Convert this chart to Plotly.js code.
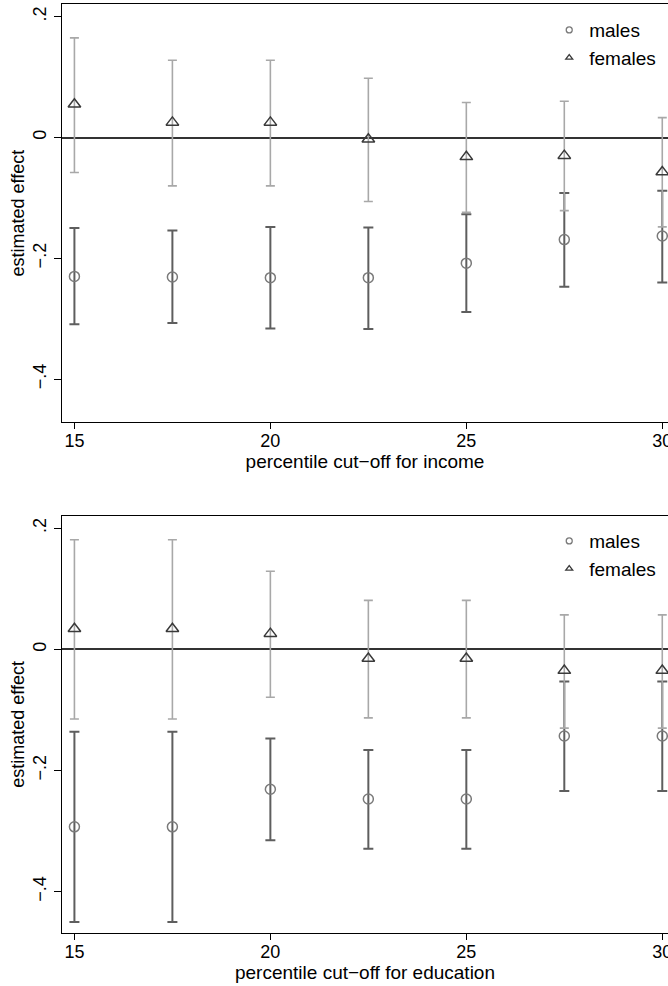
<!DOCTYPE html>
<html>
<head>
<meta charset="utf-8">
<script src="https://cdn.plot.ly/plotly-3.0.1.min.js"></script>
<style>html,body{margin:0;padding:0;background:#fff;overflow:hidden;}</style>
</head>
<body>
<div id="chart" style="width:668px;height:986px;"></div>
<script>
// percentile cut-offs
const cutoffs = [15, 17.5, 20, 22.5, 25, 27.5, 30];

// Panel 1: income
const maleIncome     = [-0.230, -0.231, -0.232, -0.232, -0.208, -0.169, -0.163];
const maleIncomeHi   = [-0.150, -0.154, -0.148, -0.149, -0.127, -0.092, -0.088];
const maleIncomeLo   = [-0.309, -0.307, -0.316, -0.317, -0.289, -0.247, -0.240];
const femaleIncome   = [0.055, 0.025, 0.025, -0.003, -0.032, -0.030, -0.057];
const femaleIncomeHi = [0.165, 0.128, 0.128, 0.098, 0.058, 0.060, 0.033];
const femaleIncomeLo = [-0.058, -0.080, -0.080, -0.106, -0.124, -0.121, -0.148];

// Panel 2: education
const maleEdu     = [-0.293, -0.293, -0.231, -0.247, -0.247, -0.143, -0.143];
const maleEduHi   = [-0.136, -0.136, -0.147, -0.166, -0.166, -0.053, -0.053];
const maleEduLo   = [-0.450, -0.450, -0.315, -0.329, -0.329, -0.234, -0.234];
const femaleEdu   = [0.034, 0.034, 0.026, -0.015, -0.015, -0.035, -0.035];
const femaleEduHi = [0.181, 0.181, 0.129, 0.081, 0.081, 0.057, 0.057];
const femaleEduLo = [-0.115, -0.115, -0.079, -0.113, -0.113, -0.130, -0.130];

const xTickVals = [15, 20, 25, 30];
const yTickVals = [-0.4, -0.2, 0, 0.2];
const yTickText = ['\u2212.4', '\u2212.2', '0', '.2'];
const seriesNames = ['males', 'females'];
const xTitles = ['percentile cut\u2212off for income', 'percentile cut\u2212off for education'];
const yTitle = 'estimated effect';

const FONT = 'Liberation Sans, Arial, Helvetica, sans-serif';
const maleColor = '#7a7a7a', maleBarColor = '#5e5e5e';
const femaleColor = '#3a3a3a', femaleBarColor = '#a8a8a8';

function errTrace(y, hi, lo, color, thick, w, xa, ya) {
  return {
    x: cutoffs, y: y, xaxis: xa, yaxis: ya, type: 'scatter', mode: 'markers',
    marker: {size: 1, opacity: 0}, showlegend: false, hoverinfo: 'skip',
    error_y: {type: 'data', symmetric: false,
      array: hi.map((v, i) => v - y[i]), arrayminus: lo.map((v, i) => y[i] - v),
      color: color, thickness: thick, width: w}
  };
}
function markTrace(y, sym, color, size, xa, ya) {
  return {x: cutoffs, y: y, xaxis: xa, yaxis: ya, type: 'scatter', mode: 'markers',
    marker: {symbol: sym, size: size, color: color, line: {color: color, width: 1.5}},
    showlegend: false};
}
function legTrace(name, sym, color, xa, ya, leg) {
  return {x: [null], y: [null], xaxis: xa, yaxis: ya, type: 'scatter', mode: 'markers', name: name,
    legend: leg, marker: {symbol: sym, size: 6, color: color, line: {color: color, width: 1.3}}};
}

const data = [
  errTrace(maleIncome, maleIncomeHi, maleIncomeLo, maleBarColor, 2, 5, 'x', 'y'),
  errTrace(femaleIncome, femaleIncomeHi, femaleIncomeLo, femaleBarColor, 1.6, 4.5, 'x', 'y'),
  markTrace(maleIncome, 'circle-open', maleColor, 10, 'x', 'y'),
  markTrace(femaleIncome, 'triangle-up-open', femaleColor, 11, 'x', 'y'),
  legTrace(seriesNames[0], 'circle-open', maleColor, 'x', 'y', 'legend'),
  legTrace(seriesNames[1], 'triangle-up-open', femaleColor, 'x', 'y', 'legend'),

  errTrace(maleEdu, maleEduHi, maleEduLo, maleBarColor, 2, 5, 'x2', 'y2'),
  errTrace(femaleEdu, femaleEduHi, femaleEduLo, femaleBarColor, 1.6, 4.5, 'x2', 'y2'),
  markTrace(maleEdu, 'circle-open', maleColor, 10, 'x2', 'y2'),
  markTrace(femaleEdu, 'triangle-up-open', femaleColor, 11, 'x2', 'y2'),
  legTrace(seriesNames[0], 'circle-open', maleColor, 'x2', 'y2', 'legend2'),
  legTrace(seriesNames[1], 'triangle-up-open', femaleColor, 'x2', 'y2', 'legend2')
];

function xAxis(title, anchor) {
  return {anchor: anchor, domain: [0, 1], range: [14.683, 30.146], tickvals: xTickVals,
    showline: true, mirror: true, linecolor: '#000', linewidth: 1.5, showgrid: false, zeroline: false,
    ticks: 'outside', ticklen: 6, tickwidth: 1.2, tickcolor: '#000', ticklabeloverflow: 'allow',
    ticklabelstandoff: -4,
    tickfont: {size: 18, color: '#000', family: FONT},
    title: {text: title, font: {size: 19, color: '#000', family: FONT}, standoff: 0}};
}
function yAxis(anchor, domain, range) {
  return {anchor: anchor, domain: domain, range: range, tickvals: yTickVals, ticktext: yTickText,
    tickangle: -90, showline: true, mirror: false, linecolor: '#000', linewidth: 1.5, showgrid: false,
    zeroline: true, zerolinecolor: '#333', zerolinewidth: 2,
    ticks: 'outside', ticklen: 7, tickwidth: 1.2, tickcolor: '#000',
    tickfont: {size: 18, color: '#000', family: FONT},
    title: {text: yTitle, font: {size: 18, color: '#000', family: FONT}, standoff: 1}};
}
function legendCfg(y) {
  return {x: 0.804, xanchor: 'left', y: y, yanchor: 'top', bgcolor: 'rgba(0,0,0,0)',
    font: {size: 19, color: '#000', family: FONT}, itemclick: false};
}

const layout = {
  width: 668, height: 986, margin: {l: 62, r: 0, t: 0, b: 0},
  paper_bgcolor: '#fff', plot_bgcolor: '#fff', font: {family: FONT, color: '#000'},
  xaxis: xAxis(xTitles[0], 'y'),
  yaxis: yAxis('x', [0.5723, 0.99544], [-0.4705, 0.2202]),
  xaxis2: xAxis(xTitles[1], 'y2'),
  yaxis2: yAxis('x2', [0.05406, 0.47667], [-0.4678, 0.2203]),
  legend: legendCfg(0.9888),
  legend2: legendCfg(0.4705)
};

Plotly.newPlot('chart', data, layout, {staticPlot: true});
</script>
</body>
</html>
